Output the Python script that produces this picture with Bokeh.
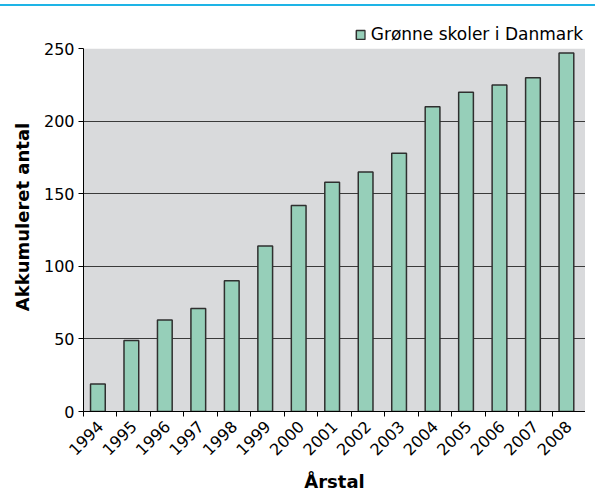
import math
from bokeh.plotting import figure
from bokeh.models import (ColumnDataSource, Range1d, FixedTicker, Legend, LegendItem, Div, BoxAnnotation)
from bokeh.transform import dodge
from bokeh.layouts import column
from bokeh.embed import file_html
from bokeh.resources import INLINE

years = ["1994", "1995", "1996", "1997", "1998", "1999", "2000", "2001",
         "2002", "2003", "2004", "2005", "2006", "2007", "2008"]
schools = [19, 49, 63, 71, 90, 114, 142, 158, 165, 178, 210, 220, 225, 230, 247]
y_ticks = [0, 50, 100, 150, 200, 250]
y_max = 250
series_name = "Grønne skoler i Danmark"

FONT = "DejaVu Sans"

centers = [i + 0.5 for i in range(len(years))]
src = ColumnDataSource(dict(x=centers, top=schools, year=years))

p = figure(frame_width=502, frame_height=389, output_backend="svg", toolbar_location=None,
           x_range=Range1d(0, len(years)), y_range=Range1d(0, 268),
           min_border_left=71, min_border_right=0, min_border_top=12, min_border_bottom=73)
p.margin = (0, 0, 0, 8)

p.background_fill_color = "white"
p.border_fill_color = "white"
p.outline_line_color = None

plot_bg = BoxAnnotation(bottom=0, top=y_max, fill_color="#d9dadc", fill_alpha=1,
                        line_color=None, level="image")
p.add_layout(plot_bg)

r = p.vbar(x=dodge("x", -0.07, range=p.x_range), top="top", bottom=0, width=0.44, source=src,
           fill_color="#96cfb9", line_color="#2f2f2f", line_width=1.5)

# x axis
xa = p.xaxis[0]
xa.ticker = FixedTicker(ticks=centers, minor_ticks=list(range(len(years) + 1)))
xa.major_label_overrides = {c: y for c, y in zip(centers, years)}
xa.major_tick_line_color = None
xa.minor_tick_line_color = "black"
xa.minor_tick_out = 5
xa.minor_tick_in = 0
xa.axis_line_color = "black"
xa.major_label_orientation = math.pi / 4
xa.major_label_standoff = 6
xa.major_label_text_font = FONT
xa.major_label_text_font_size = "16px"
xa.major_label_text_color = "black"
xa.axis_label = "Årstal"
xa.axis_label_text_font = FONT
xa.axis_label_text_font_style = "bold"
xa.axis_label_text_font_size = "18px"
xa.axis_label_text_color = "black"
xa.axis_label_standoff = 7

ya = p.yaxis[0]
ya.ticker = FixedTicker(ticks=y_ticks)
ya.bounds = (0, y_max)
ya.minor_tick_line_color = None
ya.major_tick_out = 5
ya.major_tick_in = 0
ya.major_tick_line_color = "black"
ya.axis_line_color = "black"
ya.major_label_text_font = FONT
ya.major_label_text_font_size = "16px"
ya.major_label_text_color = "black"
ya.major_label_standoff = 4
ya.axis_label = "Akkumuleret antal"
ya.axis_label_text_font = FONT
ya.axis_label_text_font_style = "bold"
ya.axis_label_text_font_size = "18px"
ya.axis_label_text_color = "black"
ya.axis_label_standoff = 8

p.xgrid.grid_line_color = None
p.ygrid.ticker = FixedTicker(ticks=y_ticks[1:-1])
p.ygrid.grid_line_color = "#3a3a3a"
p.ygrid.grid_line_width = 1.2

legend = Legend(items=[LegendItem(label=series_name, renderers=[r])],
                location="top_right", orientation="horizontal",
                border_line_color=None, background_fill_alpha=0,
                padding=0, margin=2, spacing=0,
                glyph_width=11, glyph_height=11, label_standoff=5,
                label_text_font=FONT, label_text_font_size="17px",
                label_text_color="black")
p.add_layout(legend)

bar = Div(text='<div style="position:fixed;top:4px;left:0;width:100vw;height:2px;background:#1eb4e6"></div>',
          width=0, height=0)

layout = column(bar, p, spacing=0)
open("out.html", "w").write(file_html(layout, INLINE))
